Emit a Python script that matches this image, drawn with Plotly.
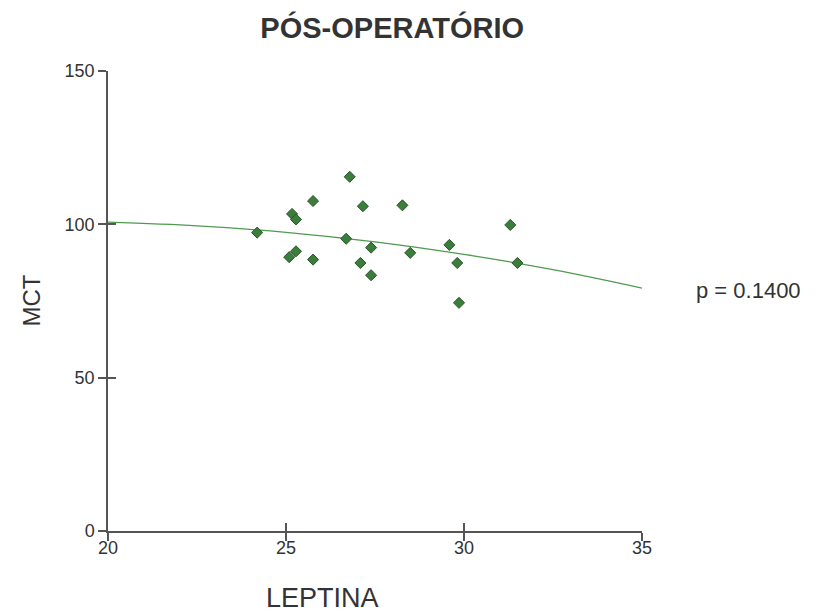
import plotly.graph_objects as go

# Scatter data (LEPTINA vs MCT)
leptina = [24.19, 25.17, 25.28, 25.76, 26.79, 27.16, 28.27, 31.30, 26.69, 27.39,
           28.49, 29.59, 29.81, 31.50, 25.28, 25.09, 25.76, 27.09, 27.39, 29.86]
mct = [97.3, 103.4, 101.6, 107.6, 115.5, 105.9, 106.2, 99.8, 95.3, 92.4,
       90.7, 93.3, 87.4, 87.4, 91.2, 89.3, 88.5, 87.4, 83.4, 74.4]

# Fitted curve, read at regular x positions
fit_x = [20, 22.5, 25, 27.5, 30, 32.5, 35]
fit_y = [100.7, 99.5, 97.4, 94.3, 90.2, 85.2, 79.2]

x_ticks = [20, 25, 30, 35]
y_ticks = [0, 50, 100, 150]

title_text = "PÓS-OPERATÓRIO"
x_title = "LEPTINA"
y_title = "MCT"
p_text = "p = 0.1400"

FONT = "Liberation Sans, Arial, sans-serif"
AXC = "#555555"
TXT = "#333333"

# the page body has an 8px margin, so the figure starts at (8, 8)
OFF = 8
W, H = 831 - OFF, 613 - OFF
L, T, R, B = 107.5 - OFF, 71 - OFF, 189, 82

fig = go.Figure()
fig.add_trace(go.Scatter(x=fit_x, y=fit_y, mode="lines", line=dict(color="#4f9a4f", width=1.3, shape="spline"),
                         hoverinfo="skip", showlegend=False))
fig.add_trace(go.Scatter(x=leptina, y=mct, mode="markers",
                         marker=dict(symbol="diamond", size=8.5, color="#3b7d3b", line=dict(color="#2a552a", width=1)),
                         showlegend=False))
# dummy trace to activate the overlay axes (inner halves of the crossing ticks)
fig.add_trace(go.Scatter(x=[None], y=[None], xaxis="x2", yaxis="y2", showlegend=False, hoverinfo="skip"))

axis_common = dict(showgrid=False, zeroline=False, ticklen=8, tickwidth=1.5, tickcolor=AXC)
fig.update_layout(
    width=W, height=H,
    margin=dict(l=L, r=R, t=T, b=B),
    paper_bgcolor="white", plot_bgcolor="white",
    font=dict(family=FONT, color=TXT),
    xaxis=dict(range=[20, 35], tickvals=x_ticks, ticks="outside", showline=True, linecolor=AXC, linewidth=1.5,
               showticklabels=False, **axis_common),
    yaxis=dict(range=[0, 150], tickvals=y_ticks, ticks="outside", showline=True, linecolor=AXC, linewidth=1.5,
               tickfont=dict(size=18, color=TXT), **axis_common),
    xaxis2=dict(overlaying="x", matches="x", side="bottom", anchor="y2", range=[20, 35], tickvals=x_ticks,
                ticks="inside", showticklabels=True, ticklabelstandoff=4, tickfont=dict(size=18, color=TXT),
                showline=False, **axis_common),
    yaxis2=dict(overlaying="y", matches="y", anchor="x2", range=[0, 150], tickvals=y_ticks, ticks="inside",
                showticklabels=False, showline=False, **axis_common),
    title=dict(text="<b>" + title_text + "</b>", x=(392 - 107.5) / 534.5, xref="paper", xanchor="center",
               y=1 - (28 - OFF) / H, yanchor="middle", font=dict(size=29, color=TXT, family=FONT)),
    annotations=[
        dict(text=x_title, xref="paper", yref="paper", x=(322 - 107.5) / 534.5, y=-(598 - 531) / 460,
             xanchor="center", yanchor="middle", showarrow=False, font=dict(size=27, color=TXT)),
        dict(text=y_title, xref="paper", yref="paper", x=-(107.5 - 30) / 534.5, y=(531 - 301) / 460, textangle=-90,
             xanchor="center", yanchor="middle", showarrow=False, font=dict(size=24, color=TXT)),
        dict(text=p_text, xref="paper", yref="paper", x=(694 - 107.5) / 534.5, y=(531 - 290) / 460,
             xanchor="left", yanchor="middle", showarrow=False, font=dict(size=22, color=TXT)),
    ],
)

fig.write_html("out.html")
